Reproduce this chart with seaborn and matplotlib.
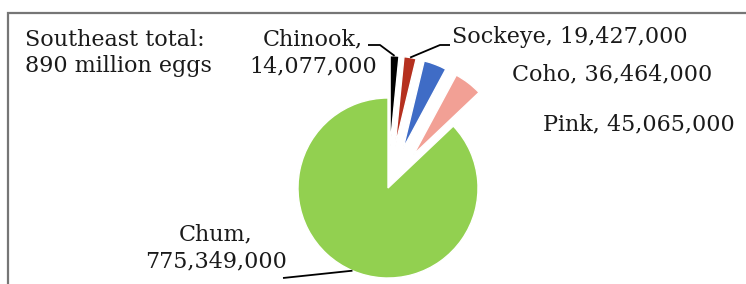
import numpy as np
import matplotlib
matplotlib.use("Agg")
import matplotlib.pyplot as plt
import seaborn as sns
from matplotlib.patches import Rectangle

# salmon eggs by species, Southeast region
species = ["Chinook", "Sockeye", "Coho", "Pink", "Chum"]
eggs = [14077000, 19427000, 36464000, 45065000, 775349000]
total_label = "Southeast total:\n890 million eggs"

colors = ["#000000", "#b5301f", "#3f6cc6", "#f2a095", "#92d050"]
explode = [0.47, 0.47, 0.47, 0.47, 0.0]

W, H = 746, 284
CX, CY, R = 388, 188, 90  # pie centre / radius in pixels

sns.set_theme(style="white")
plt.rcParams["font.family"] = ["DejaVu Serif"]
FS = 16


def px(x, y):
    # pixel (from top-left) -> data coords of the full-figure axes
    return (x - CX) / R, (CY - y) / R


fig = plt.figure(figsize=(W / 100, H / 100), dpi=100)
ax = fig.add_axes([0, 0, 1, 1])
wedges, _ = ax.pie(eggs, colors=colors, explode=explode, startangle=90,
                   counterclock=False,
                   wedgeprops=dict(edgecolor="white", linewidth=1.0))
ax.set_xlim(-CX / R, (W - CX) / R)
ax.set_ylim(-(H - CY) / R, CY / R)
ax.set_aspect("auto")
ax.axis("off")


def anchor(w):
    mid = np.deg2rad((w.theta1 + w.theta2) / 2)
    cx, cy = w.center
    return cx + w.r * np.cos(mid), cy + w.r * np.sin(mid)


# labels: text, x, y (pixels, last baseline), ha
labels = [
    (f"Chinook,\n{eggs[0]:,}", 313, 72, "center"),
    (f"Sockeye, {eggs[1]:,}", 452, 43, "left"),
    (f"Coho, {eggs[2]:,}", 512, 80, "left"),
    (f"Pink, {eggs[3]:,}", 543, 130, "left"),
    (f"Chum,\n{eggs[4]:,}", 216, 267, "center"),
]
for txt, x, y, ha in labels:
    fig.text(x / W, 1 - y / H, txt, ha=ha, va="baseline", ma="center",
             fontsize=FS, color="#1a1a1a", linespacing=1.28)

fig.text(25 / W, 1 - 72 / H, total_label, ha="left", va="baseline",
         fontsize=FS, color="#1a1a1a", linespacing=1.25)

# leader lines
leaders = {0: [(368, 45), (380, 45)], 1: [(450, 45), (440, 45)], 4: [(283, 278)]}
for i, pts in leaders.items():
    xs = [px(*p)[0] for p in pts] + [anchor(wedges[i])[0]]
    ys = [px(*p)[1] for p in pts] + [anchor(wedges[i])[1]]
    ax.plot(xs, ys, color="black", lw=1.3, solid_capstyle="butt")

# chart area border (cropped at right and bottom)
fig.patches.append(Rectangle((8 / W, -0.2), 1.2, 1 - 13 / H + 0.2,
                             transform=fig.transFigure, fill=False,
                             edgecolor="#767676", linewidth=1.6, clip_on=False))

fig.savefig("out.png", dpi=100)
